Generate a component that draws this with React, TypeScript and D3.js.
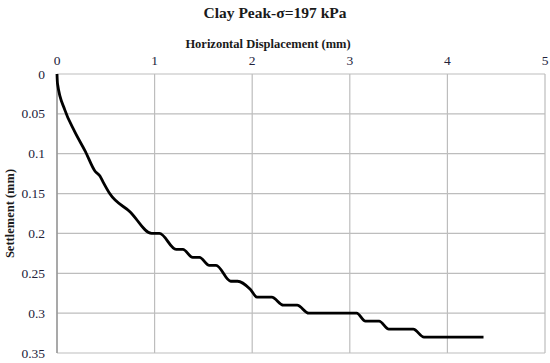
import * as d3 from 'd3'

const W = 550
const H = 363
const margin = { top: 74, right: 5, bottom: 10, left: 57 }

// ticks
const xTicks = [0, 1, 2, 3, 4, 5]
const yTicks = [0, 0.05, 0.1, 0.15, 0.2, 0.25, 0.3, 0.35]

// series
const dispX = [
  0, 0.005, 0.08, 0.18, 0.29, 0.39, 0.44, 0.47, 0.54, 0.75, 0.97, 1.05, 1.22, 1.29, 1.39,
  1.46, 1.56, 1.63, 1.78, 1.85, 1.98, 2.05, 2.2, 2.32, 2.46, 2.58, 3.07, 3.16, 3.3, 3.4,
  3.65, 3.76, 4.37,
]
const settle = [
  0, 0.012, 0.045, 0.072, 0.097, 0.122, 0.128, 0.135, 0.15, 0.173, 0.2, 0.2, 0.22, 0.22, 0.23,
  0.23, 0.24, 0.24, 0.26, 0.26, 0.27, 0.28, 0.28, 0.29, 0.29, 0.3, 0.3, 0.31, 0.31, 0.32,
  0.32, 0.33, 0.33,
]

export default function App() {
  const x = d3.scaleLinear().domain([0, 5]).range([margin.left, W - margin.right])
  const y = d3.scaleLinear().domain([0, 0.35]).range([margin.top, H - margin.bottom])

  const pts = dispX.map((d, i) => [d, settle[i]] as [number, number])
  const line = d3
    .line<[number, number]>()
    .x((d) => x(d[0]))
    .y((d) => y(d[1]))
    .curve(d3.curveMonotoneX)

  const font = '"Liberation Serif", "Times New Roman", serif'
  const grid = '#bdbdbd'

  return (
    <svg
      width={W}
      height={H}
      style={{ position: 'absolute', left: 0, top: 0, background: '#fff' }}
      fontFamily={font}
    >
      <text x={W / 2} y={18} textAnchor="middle" fontWeight="bold" fontSize={15.5} fill="#1a1a1a">
        Clay Peak-σ=197 kPa
      </text>
      <text x={268} y={48} textAnchor="middle" fontWeight="bold" fontSize={12.5} fill="#1a1a1a">
        Horizontal Displacement (mm)
      </text>
      <text
        transform={`translate(14, ${(y(0) + y(0.35)) / 2}) rotate(-90)`}
        textAnchor="middle"
        fontWeight="bold"
        fontSize={12.5}
        fill="#1a1a1a"
      >
        Settlement (mm)
      </text>

      {/* grid */}
      {xTicks.map((t) => (
        <line key={'gx' + t} x1={x(t)} x2={x(t)} y1={y(0)} y2={y(0.35)} stroke={grid} strokeWidth={1.2} />
      ))}
      {yTicks.map((t) => (
        <line key={'gy' + t} x1={x(0)} x2={x(5)} y1={y(t)} y2={y(t)} stroke={grid} strokeWidth={1.2} />
      ))}
      <line x1={x(0)} x2={x(0)} y1={y(0)} y2={y(0.35)} stroke="#8a8a8a" strokeWidth={1.2} />

      {/* tick labels */}
      {xTicks.map((t) => (
        <text key={'tx' + t} x={x(t)} y={65} textAnchor="middle" fontSize={13.5} fill="#22223a">
          {t}
        </text>
      ))}
      {yTicks.map((t) => (
        <text key={'ty' + t} x={45} y={y(t) + 4.5} textAnchor="end" fontSize={13.5} fill="#22223a">
          {t}
        </text>
      ))}

      <path d={line(pts) ?? ''} fill="none" stroke="#000" strokeWidth={2.8} strokeLinejoin="round" />
    </svg>
  )
}
